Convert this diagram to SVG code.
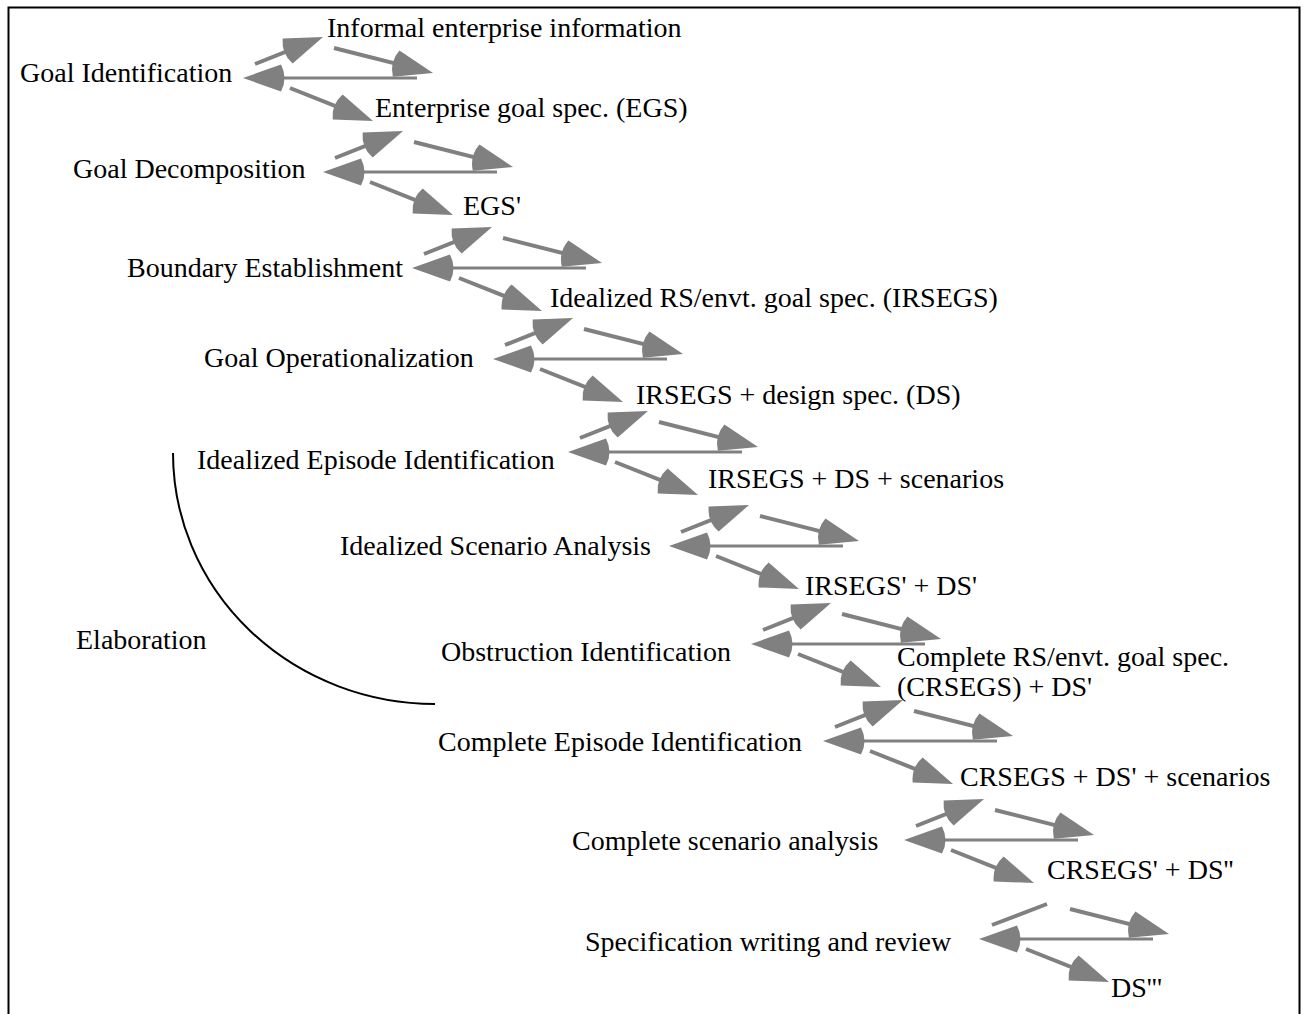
<svg xmlns="http://www.w3.org/2000/svg" xmlns:xlink="http://www.w3.org/1999/xlink" width="1308" height="1014" viewBox="0 0 1308 1014">
<style>
text{font-family:"Liberation Serif","Times New Roman",serif;font-size:28px;fill:#000}
.c{stroke:#808080;stroke-width:4;fill:none;marker-end:url(#ah)}
.h{stroke:#808080;stroke-width:3;fill:none;marker-end:url(#ah)}
.n{stroke:#808080;stroke-width:4;fill:none}
</style>
<defs>
<marker id="ah" markerUnits="userSpaceOnUse" viewBox="-10 -16 50 32" markerWidth="50" markerHeight="32" refX="18" refY="0" orient="auto" overflow="visible">
<path d="M0,-13.5 L38,0 L0,13.5 Q-7,0 0,-13.5 Z" fill="#808080"/>
</marker>
<g id="st">
<line class="c" x1="12" y1="-14" x2="61.4" y2="-33.6"/>
<line class="c" x1="91" y1="-30" x2="170.6" y2="-9.9"/>
<line class="h" x1="174" y1="0" x2="20" y2="0"/>
<line class="c" x1="47" y1="10" x2="111.4" y2="35.6"/>
</g>
</defs>
<rect x="8.5" y="7.5" width="1291" height="1020" fill="none" stroke="#000" stroke-width="2"/>
<g id="connectors">
<use xlink:href="#st" x="243" y="78"/>
<use xlink:href="#st" x="323" y="172"/>
<use xlink:href="#st" x="412" y="268"/>
<use xlink:href="#st" x="493" y="359"/>
<use xlink:href="#st" x="568" y="452"/>
<use xlink:href="#st" x="669" y="546"/>
<use xlink:href="#st" x="751" y="644"/>
<use xlink:href="#st" x="823" y="741"/>
<use xlink:href="#st" x="904" y="840"/>
<g transform="translate(979,939)">
<line class="n" x1="13" y1="-14" x2="68" y2="-35"/>
<line class="c" x1="91" y1="-30" x2="170.6" y2="-9.9"/>
<line class="h" x1="174" y1="0" x2="20" y2="0"/>
<line class="c" x1="47" y1="10" x2="111.4" y2="35.6"/>
</g>
<path d="M173,453 A262,251 0 0 0 435,704" fill="none" stroke="#000" stroke-width="2"/>
</g>
<g id="n-informal"><text x="327" y="37">Informal enterprise information</text></g>
<g id="n-goalid"><text x="20" y="82">Goal Identification</text></g>
<g id="n-egs"><text x="375" y="117">Enterprise goal spec. (EGS)</text></g>
<g id="n-goaldec"><text x="73" y="178">Goal Decomposition</text></g>
<g id="n-egs2"><text x="463" y="215">EGS'</text></g>
<g id="n-boundary"><text x="127" y="277">Boundary Establishment</text></g>
<g id="n-irsegs"><text x="550" y="307">Idealized RS/envt. goal spec. (IRSEGS)</text></g>
<g id="n-goalop"><text x="204" y="367">Goal Operationalization</text></g>
<g id="n-ds"><text x="636" y="404">IRSEGS + design spec. (DS)</text></g>
<g id="n-iei"><text x="197" y="469">Idealized Episode Identification</text></g>
<g id="n-irsc"><text x="708" y="488">IRSEGS + DS + scenarios</text></g>
<g id="n-isa"><text x="340" y="555">Idealized Scenario Analysis</text></g>
<g id="n-irsegs2"><text x="805" y="595">IRSEGS' + DS'</text></g>
<g id="n-obs"><text x="441" y="661">Obstruction Identification</text></g>
<g id="n-crsegs"><text x="897" y="666">Complete RS/envt. goal spec.</text><text x="897" y="696">(CRSEGS) + DS'</text></g>
<g id="n-cei"><text x="438" y="751">Complete Episode Identification</text></g>
<g id="n-crsc"><text x="960" y="786">CRSEGS + DS' + scenarios</text></g>
<g id="n-csa"><text x="572" y="850">Complete scenario analysis</text></g>
<g id="n-crsegs2"><text x="1047" y="879">CRSEGS' + DS''</text></g>
<g id="n-spec"><text x="585" y="951">Specification writing and review</text></g>
<g id="n-ds3"><text x="1111" y="997">DS'''</text></g>
<g id="n-elab"><text x="76" y="649">Elaboration</text></g>
</svg>
